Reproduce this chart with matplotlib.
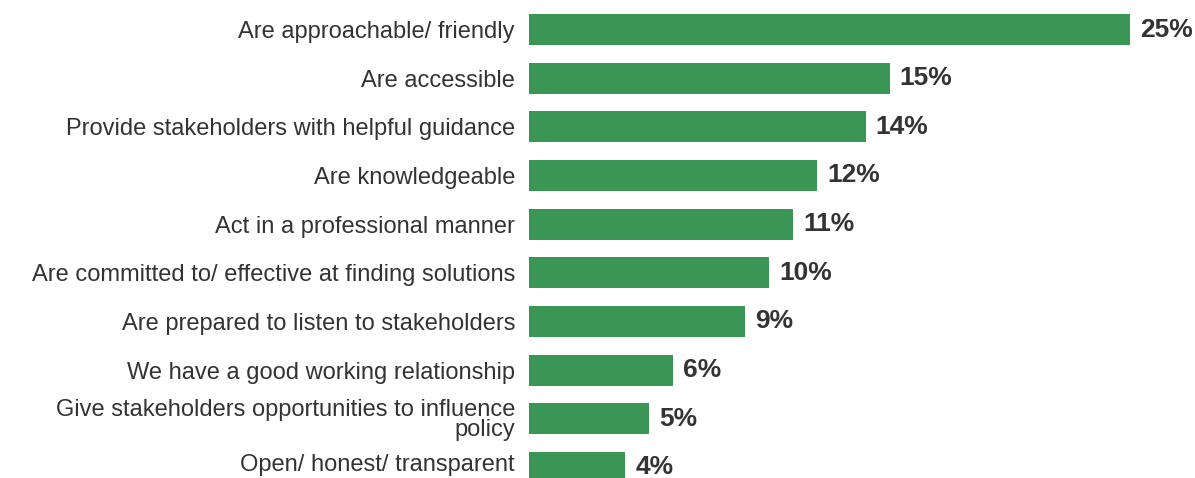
import matplotlib.pyplot as plt
import matplotlib.transforms as mtransforms

categories = ['Are approachable/ friendly',
              'Are accessible',
              'Provide stakeholders with helpful guidance',
              'Are knowledgeable',
              'Act in a professional manner',
              'Are committed to/ effective at finding solutions',
              'Are prepared to listen to stakeholders',
              'We have a good working relationship',
              'Give stakeholders opportunities to influence\npolicy',
              'Open/ honest/ transparent']
values = [25, 15, 14, 12, 11, 10, 9, 6, 5, 4]

plt.rcParams['font.family'] = ['Liberation Sans', 'DejaVu Sans']

fig = plt.figure(figsize=(11.95, 4.78), dpi=100)
# axes placed in pixel terms: x axis from 529px, rows ~48.65px apart
W, H = 1195, 478
left, right = 529, 529 + 27.5 * 24.04
top, bottom = 5.2, 491.7
ax = fig.add_axes([left / W, (H - bottom) / H, (right - left) / W, (bottom - top) / H])

y = list(range(len(values)))
bars = ax.barh(y, values, height=0.64, color='#3A9655')
ax.set_xlim(0, 27.5)
ax.set_ylim(len(values) - 0.5, -0.5)
ax.set_xticks([])
ax.set_yticks([])
for s in ax.spines.values():
    s.set_visible(False)

# category labels, right-aligned 14px left of the bars
lab_tr = mtransforms.blended_transform_factory(ax.transAxes, ax.transData) + \
    mtransforms.ScaledTranslation(-14 / 100, 0, fig.dpi_scale_trans)
for i, c in enumerate(categories):
    yy = i - 0.1 if i == len(categories) - 1 else i  # bottom row sits on the edge
    ax.text(0, yy, c, transform=lab_tr, ha='right', va='center_baseline',
            multialignment='right', fontsize=17, color='#333333', linespacing=0.87)

for rect, v in zip(bars, values):
    ax.text(rect.get_width() + 0.42, rect.get_y() + rect.get_height() / 2, f'{v}%',
            ha='left', va='center', fontsize=19, fontweight='bold', color='#333333')

fig.savefig('out.png', dpi=100)
